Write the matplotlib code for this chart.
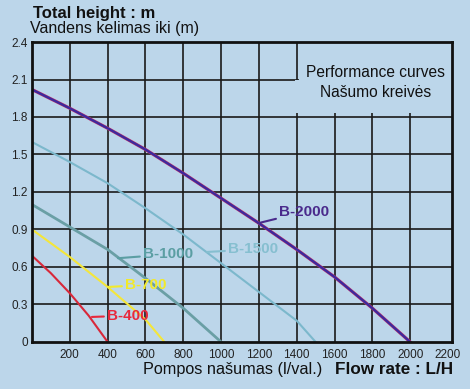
import matplotlib
matplotlib.use('Agg')
import matplotlib.pyplot as plt

plt.rcParams['font.family'] = ['Liberation Sans', 'DejaVu Sans']

bg = '#bcd6ea'

# pump curves (flow L/H, height m)
x_2000 = [0, 200, 400, 600, 800, 1000, 1200, 1400, 1600, 1800, 2000]
y_2000 = [2.02, 1.87, 1.71, 1.54, 1.35, 1.15, 0.95, 0.74, 0.52, 0.27, 0]
x_1500 = [0, 200, 400, 600, 800, 1000, 1200, 1400, 1500]
y_1500 = [1.60, 1.44, 1.27, 1.07, 0.86, 0.63, 0.40, 0.17, 0]
x_1000 = [0, 200, 400, 600, 800, 1000]
y_1000 = [1.10, 0.92, 0.74, 0.51, 0.27, 0]
x_700 = [0, 200, 400, 600, 700]
y_700 = [0.90, 0.68, 0.44, 0.18, 0]
x_400 = [0, 100, 200, 300, 400]
y_400 = [0.69, 0.55, 0.39, 0.21, 0]

names = ['B-2000', 'B-1500', 'B-1000', 'B-700', 'B-400']
line_colors = ['#3b2a9e', '#7cb8cc', '#6a9fa5', '#f4e63a', '#d8283a']
text_colors = ['#4a2a8c', '#86bfd0', '#5b9ea3', '#f2ea2a', '#e8283c']
# leader line: point on curve -> start of label
leader_from = [(1196, 0.95), (926, 0.72), (455, 0.67), (402, 0.44), (317, 0.20)]
label_at = [(1305, 1.04), (1035, 0.74), (585, 0.70), (490, 0.455), (395, 0.21)]

x_ticks = [200, 400, 600, 800, 1000, 1200, 1400, 1600, 1800, 2000, 2200]
y_ticks = [0, 0.3, 0.6, 0.9, 1.2, 1.5, 1.8, 2.1, 2.4]

fig = plt.figure(figsize=(4.7, 3.89), dpi=100, facecolor=bg)
ax = fig.add_axes([0.068, 0.121, 0.894, 0.771], facecolor=bg)
ax.set_xlim(0, 2222)
ax.set_ylim(0, 2.4)

for gx in x_ticks[:-1]:
    ax.axvline(gx, color='#1a1a1a', lw=1.2, zorder=1)
for gy in y_ticks[1:-1]:
    ax.axhline(gy, color='#1a1a1a', lw=1.2, zorder=1)

# box behind the title text
ax.add_patch(plt.Rectangle((1393, 1.83), 900, 0.27, facecolor=bg, edgecolor='none', zorder=1.5))
ax.add_patch(plt.Rectangle((1410, 2.09), 900, 0.4, facecolor=bg, edgecolor='none', zorder=1.5))
ax.text(1815, 2.155, 'Performance curves', ha='center', va='center', fontsize=11.2, color='#111111', zorder=2)
ax.text(1815, 1.995, 'Našumo kreivės', ha='center', va='center', fontsize=11.2, color='#111111', zorder=2)

xs = [x_2000, x_1500, x_1000, x_700, x_400]
ys = [y_2000, y_1500, y_1000, y_700, y_400]
widths = [1.6, 1.5, 2.0, 1.5, 1.5]
for i in range(len(names)):
    if i == 0:
        ax.plot(xs[i], ys[i], color='#c0306a', lw=2.3, zorder=3)
    ax.plot(xs[i], ys[i], color=line_colors[i], lw=widths[i], zorder=3)
    ax.annotate(names[i], xy=leader_from[i], xytext=label_at[i], ha='left', va='center',
                fontsize=11, fontweight='bold', color=text_colors[i], zorder=4,
                arrowprops=dict(arrowstyle='-', color=text_colors[i], lw=1.5,
                                shrinkA=0, shrinkB=0))

ax.set_xticks(x_ticks)
ax.set_xticklabels([str(v) for v in x_ticks])
ax.set_yticks(y_ticks)
ax.set_yticklabels(['0', '0.3', '0.6', '0.9', '1.2', '1.5', '1.8', '2.1', '2.4'])
ax.tick_params(length=0, labelsize=8.5, labelcolor='#222222')
ax.tick_params(axis='x', pad=5)
ax.tick_params(axis='y', pad=3)
for s in ax.spines.values():
    s.set_linewidth(2)
    s.set_color('#111111')
    s.set_zorder(5)

fig.text(0.070, 0.966, 'Total height : m', fontsize=12, fontweight='bold', color='#111111', va='center')
fig.text(0.064, 0.926, 'Vandens kelimas iki (m)', fontsize=11.5, color='#111111', va='center')
fig.text(0.685, 0.049, 'Pompos našumas (l/val.)', fontsize=11.7, color='#111111', va='center', ha='right')
fig.text(0.964, 0.049, 'Flow rate : L/H', fontsize=12.3, fontweight='bold', color='#111111', va='center', ha='right')

plt.savefig('out.png', dpi=100, facecolor=bg)
